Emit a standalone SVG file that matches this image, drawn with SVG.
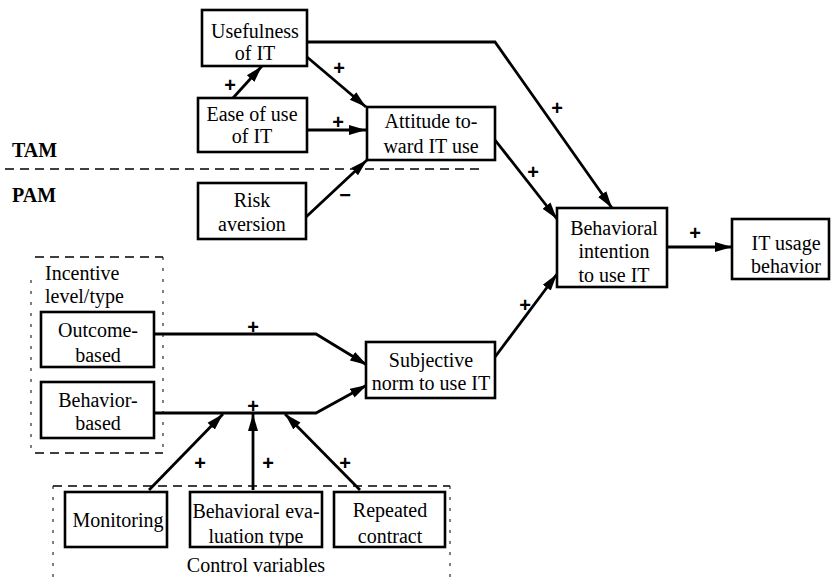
<svg xmlns="http://www.w3.org/2000/svg" width="831" height="577" viewBox="0 0 831 577">
<defs>
<marker id="ah" markerUnits="userSpaceOnUse" markerWidth="18" markerHeight="12" refX="17" refY="6" orient="auto">
<path d="M0,1 L17,6 L0,11 Z" fill="#000"/>
</marker>
<style>
.box{fill:#fff;stroke:#000;stroke-width:2.6}
.t{font-family:'Liberation Serif','DejaVu Serif',serif;font-size:20px;fill:#000;text-anchor:middle}
.lbl{font-family:'Liberation Serif','DejaVu Serif',serif;font-size:20px;font-weight:bold;fill:#000}
.sg{font-family:'Liberation Sans',sans-serif;font-size:20px;font-weight:bold;fill:#000;text-anchor:middle}
.c{fill:none;stroke:#000;stroke-width:2.8}
.dash{fill:none;stroke:#000;stroke-width:1.3;stroke-dasharray:9,6}
.dot{fill:none;stroke:#000;stroke-width:1;stroke-dasharray:3,8}
</style>
</defs>
<rect width="831" height="577" fill="#fff"/>

<g id="regions">
<line class="dash" x1="5" y1="169" x2="482" y2="169"/>
<text class="lbl" x="12" y="157">TAM</text>
<text class="lbl" x="12" y="202">PAM</text>
<line class="dash" x1="35" y1="257" x2="163" y2="257"/>
<line class="dot" x1="163" y1="257" x2="163" y2="453"/>
<line class="dot" x1="31" y1="280" x2="31" y2="453"/>
<line class="dash" x1="35" y1="453" x2="163" y2="453"/>
<text class="t" x="45" y="280" style="text-anchor:start">Incentive</text>
<text class="t" x="45" y="303" style="text-anchor:start">level/type</text>
<line class="dash" x1="53" y1="486" x2="450" y2="486"/>
<line class="dot" x1="53" y1="486" x2="53" y2="577"/>
<line class="dot" x1="450" y1="486" x2="450" y2="577"/>
<text class="t" x="256" y="572">Control variables</text>
</g>

<g id="connectors">
<path class="c" d="M233,98 L262,66" marker-end="url(#ah)"/>
<path class="c" d="M307,57 L366,107" marker-end="url(#ah)"/>
<path class="c" d="M307,130 L366,130" marker-end="url(#ah)"/>
<path class="c" d="M306,217 L367,160" marker-end="url(#ah)"/>
<path class="c" d="M307,42 L495,42 L612,208" marker-end="url(#ah)"/>
<path class="c" d="M495,140 L557,219" marker-end="url(#ah)"/>
<path class="c" d="M495,357 L557,274" marker-end="url(#ah)"/>
<path class="c" d="M667,247 L732,247" marker-end="url(#ah)"/>
<path class="c" d="M154,334 L316,334 L367,365" marker-end="url(#ah)"/>
<path class="c" d="M154,413 L316,413 L367,385" marker-end="url(#ah)"/>
<path class="c" d="M149,490 L223,414" marker-end="url(#ah)"/>
<path class="c" d="M253,490 L253,414" marker-end="url(#ah)"/>
<path class="c" d="M360,490 L285,414" marker-end="url(#ah)"/>
<text class="sg" x="230" y="92">+</text>
<text class="sg" x="339" y="75">+</text>
<text class="sg" x="338" y="129">+</text>
<text class="sg" x="345" y="202">−</text>
<text class="sg" x="557" y="115">+</text>
<text class="sg" x="533" y="179">+</text>
<text class="sg" x="525" y="312">+</text>
<text class="sg" x="695" y="240">+</text>
<text class="sg" x="253" y="334">+</text>
<text class="sg" x="253" y="413">+</text>
<text class="sg" x="200" y="470">+</text>
<text class="sg" x="268" y="470">+</text>
<text class="sg" x="345" y="470">+</text>
</g>

<g id="usefulness">
<rect class="box" x="202" y="10" width="105" height="56"/>
<text class="t" x="255" y="38">Usefulness</text>
<text class="t" x="255" y="60">of IT</text>
</g>
<g id="ease">
<rect class="box" x="198" y="98" width="109" height="54"/>
<text class="t" x="252" y="121">Ease of use</text>
<text class="t" x="252" y="143">of IT</text>
</g>
<g id="attitude">
<rect class="box" x="367" y="107" width="128" height="53"/>
<text class="t" x="431" y="128">Attitude to-</text>
<text class="t" x="431" y="153">ward IT use</text>
</g>
<g id="risk">
<rect class="box" x="198" y="183" width="108" height="56"/>
<text class="t" x="252" y="207">Risk</text>
<text class="t" x="252" y="231">aversion</text>
</g>
<g id="intention">
<rect class="box" x="557" y="208" width="110" height="79"/>
<text class="t" x="614" y="235">Behavioral</text>
<text class="t" x="614" y="258">intention</text>
<text class="t" x="614" y="282">to use IT</text>
</g>
<g id="usage">
<rect class="box" x="732" y="219" width="97" height="60"/>
<text class="t" x="786" y="250">IT usage</text>
<text class="t" x="786" y="273">behavior</text>
</g>
<g id="outcome">
<rect class="box" x="41" y="312" width="113" height="55"/>
<text class="t" x="98" y="337">Outcome-</text>
<text class="t" x="98" y="362">based</text>
</g>
<g id="behavior">
<rect class="box" x="41" y="382" width="113" height="56"/>
<text class="t" x="98" y="407">Behavior-</text>
<text class="t" x="98" y="430">based</text>
</g>
<g id="subjective">
<rect class="box" x="366" y="342" width="129" height="56"/>
<text class="t" x="431" y="367">Subjective</text>
<text class="t" x="431" y="390">norm to use IT</text>
</g>
<g id="monitoring">
<rect class="box" x="65" y="492" width="102" height="55"/>
<text class="t" x="118" y="527">Monitoring</text>
</g>
<g id="evaluation">
<rect class="box" x="190" y="492" width="132" height="55"/>
<text class="t" x="256" y="518">Behavioral eva-</text>
<text class="t" x="256" y="543">luation type</text>
</g>
<g id="repeated">
<rect class="box" x="334" y="492" width="111" height="55"/>
<text class="t" x="390" y="517">Repeated</text>
<text class="t" x="390" y="543">contract</text>
</g>
</svg>
